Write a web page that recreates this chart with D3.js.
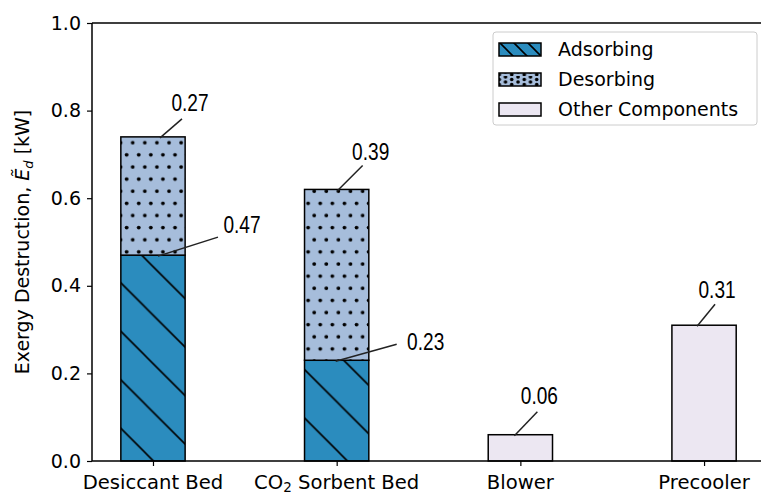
<!DOCTYPE html>
<html>
<head>
<meta charset="utf-8">
<script src="https://cdn.jsdelivr.net/npm/d3@7"></script>
<style>
  body { margin: 0; background: #fff; }
  svg text { font-family: "DejaVu Sans", sans-serif; }
  .val { font-family: "Liberation Sans", Arial, sans-serif; font-size: 23px; }
</style>
</head>
<body>
<div id="chart"></div>
<script>
// categories and values (kW)
var categories = ["Desiccant Bed", "CO2 Sorbent Bed", "Blower", "Precooler"];
var adsorbing = [0.47, 0.23, null, null];
var desorbing = [0.27, 0.39, null, null];
var other = [null, null, 0.06, 0.31];
var yTicks = [0.0, 0.2, 0.4, 0.6, 0.8, 1.0];
var legendLabels = ["Adsorbing", "Desorbing", "Other Components"];

var colAds = "#2b8cbe", colDes = "#a6bddb", colOther = "#ece7f2";

var W = 761, H = 493;
var margin = { top: 23, left: 92, bottom: 32 };

var svg = d3.select("#chart").append("svg")
    .attr("width", W)
    .attr("height", H);

var defs = svg.append("defs");

// hatch "\\" pattern
function makeHatch(id, s, ox, oy) {
    var p = defs.append("pattern")
        .attr("id", id)
        .attr("patternUnits", "userSpaceOnUse")
        .attr("x", ox).attr("y", oy)
        .attr("width", s).attr("height", s);
    p.append("rect").attr("width", s).attr("height", s).attr("fill", colAds);
    p.append("path")
        .attr("d", "M-2,-2L" + (s + 2) + "," + (s + 2) + "M" + (-s - 2) + ",-2L2," + (s + 2) + "M" + (s - 2) + ",-2L" + (2 * s + 2) + "," + (s + 2))
        .attr("stroke", "#000").attr("stroke-width", 1.6);
}
makeHatch("hatchAds", 48.5, 0, 16.5);
makeHatch("hatchLeg", 14, 0, 4);

// dotted pattern
var dw = 12.1, dh = 24.26;
var dots = defs.append("pattern")
    .attr("id", "dotsDes")
    .attr("patternUnits", "userSpaceOnUse")
    .attr("x", 129.7).attr("y", 139.7)
    .attr("width", dw).attr("height", dh);
dots.append("rect").attr("width", dw).attr("height", dh).attr("fill", colDes);
dots.append("circle").attr("cx", 3).attr("cy", 3).attr("r", 1.9).attr("fill", "#000");
dots.append("circle").attr("cx", 3 + dw / 2).attr("cy", 3 + dh / 2).attr("r", 1.9).attr("fill", "#000");

var dotsL = defs.append("pattern")
    .attr("id", "dotsLeg")
    .attr("patternUnits", "userSpaceOnUse")
    .attr("x", 497).attr("y", 74)
    .attr("width", 12.5).attr("height", 10);
dotsL.append("rect").attr("width", 12.5).attr("height", 10).attr("fill", colDes);
dotsL.append("circle").attr("cx", 3).attr("cy", 1).attr("r", 1.8).attr("fill", "#000");
dotsL.append("circle").attr("cx", 3).attr("cy", 6).attr("r", 1.8).attr("fill", "#000");
dotsL.append("circle").attr("cx", 9.25).attr("cy", 3.5).attr("r", 1.8).attr("fill", "#000");
dotsL.append("circle").attr("cx", 9.25).attr("cy", 8.5).attr("r", 1.8).attr("fill", "#000");

var x = d3.scaleLinear()
    .domain([-0.332, 3.31])
    .range([margin.left, W]);

var y = d3.scaleLinear()
    .domain([0, 1])
    .range([H - margin.bottom - 0, margin.top]);

var bw = x(0.35) - x(0);

var g = svg.append("g");

function drawBars(vals, base, fill) {
    g.selectAll(null)
        .data(vals.map(function(v, i) { return { v: v, i: i, b: base ? base[i] || 0 : 0 }; })
                  .filter(function(d) { return d.v != null; }))
        .enter()
        .append("rect")
        .attr("x", function(d) { return x(d.i) - bw / 2; })
        .attr("y", function(d) { return y(d.b + d.v); })
        .attr("width", bw)
        .attr("height", function(d) { return y(d.b) - y(d.b + d.v); })
        .attr("fill", fill)
        .attr("stroke", "#000")
        .attr("stroke-width", 1.5);
}

drawBars(adsorbing, null, "url(#hatchAds)");
drawBars(desorbing, adsorbing, "url(#dotsDes)");
drawBars(other, null, colOther);

// axes
var yAxis = d3.axisLeft(y)
    .tickValues(yTicks)
    .tickFormat(d3.format(".1f"))
    .tickSize(5)
    .tickPadding(6);

var ya = svg.append("g")
    .attr("transform", "translate(" + margin.left + ",0)")
    .call(yAxis);
ya.select(".domain").remove();
ya.selectAll("text").attr("font-size", 19).attr("font-family", "DejaVu Sans").attr("fill", "#000");
ya.selectAll("line").attr("stroke", "#000").attr("stroke-width", 1.2);

var xAxis = d3.axisBottom(x)
    .tickValues([0, 1, 2, 3])
    .tickFormat("")
    .tickSize(5);

var xa = svg.append("g")
    .attr("transform", "translate(0," + y(0) + ")")
    .call(xAxis);
xa.select(".domain").remove();
xa.selectAll("line").attr("stroke", "#000").attr("stroke-width", 1.2);

// x labels (CO2 subscript)
var xl = svg.append("g").selectAll("text")
    .data(categories)
    .enter()
    .append("text")
    .attr("x", function(d, i) { return x(i); })
    .attr("y", 489)
    .attr("text-anchor", "middle")
    .attr("font-size", 19.6);
xl.each(function(d) {
    var t = d3.select(this);
    if (d.indexOf("CO2") === 0) {
        t.append("tspan").text("CO");
        t.append("tspan").text("2").attr("font-size", 13.5).attr("dy", 2.5);
        t.append("tspan").text(d.slice(3)).attr("dy", -2.5);
    } else {
        t.text(d);
    }
});

// spines
svg.append("path")
    .attr("d", "M" + margin.left + "," + y(1) + "V" + y(0) + "H" + W + "M" + margin.left + "," + y(1) + "H" + W)
    .attr("fill", "none")
    .attr("stroke", "#000")
    .attr("stroke-width", 1.5);

// y label
var yl = svg.append("text")
    .attr("transform", "translate(29," + y(0.5) + ") rotate(-90)")
    .attr("text-anchor", "middle")
    .attr("font-size", 19);
yl.append("tspan").text("Exergy Destruction, ");
yl.append("tspan").text("\u1EBC").attr("font-style", "italic");
yl.append("tspan").text("d").attr("font-style", "italic").attr("font-size", 13).attr("dy", 4);
yl.append("tspan").text(" [kW]").attr("dy", -4);

// value annotations: leader from bar top to text
var annot = [
    { i: 0, v: adsorbing[0] + desorbing[0], text: desorbing[0], lx0: 7, lx1: 29, ly1: -18, tx: 37, ty: -26 },
    { i: 0, v: adsorbing[0], text: adsorbing[0], lx0: 5, lx1: 65, ly1: -18, tx: 89, ty: -22 },
    { i: 1, v: adsorbing[1] + desorbing[1], text: desorbing[1], lx0: 1, lx1: 26, ly1: -24, tx: 34, ty: -29 },
    { i: 1, v: adsorbing[1], text: adsorbing[1], lx0: -1, lx1: 60, ly1: -16, tx: 89, ty: -10 },
    { i: 2, v: other[2], text: other[2], lx0: -6, lx1: 17, ly1: -23, tx: 19, ty: -31 },
    { i: 3, v: other[3], text: other[3], lx0: -7, lx1: 11, ly1: -21, tx: 13, ty: -27 }
];

var ag = svg.append("g");
annot.forEach(function(a) {
    var px = x(a.i), py = y(a.v);
    ag.append("line")
        .attr("x1", px + a.lx0).attr("y1", py + 1)
        .attr("x2", px + a.lx1).attr("y2", py + a.ly1)
        .attr("stroke", "#222").attr("stroke-width", 1.5);
    ag.append("text")
        .attr("class", "val")
        .attr("transform", "translate(" + (px + a.tx) + "," + (py + a.ty) + ") scale(0.83,1)")
        .attr("text-anchor", "middle")
        .text(d3.format(".2f")(a.text));
});

// legend
var lg = svg.append("g").attr("transform", "translate(493,32)");
lg.append("rect")
    .attr("width", 264).attr("height", 93)
    .attr("rx", 3)
    .attr("fill", "#fff").attr("fill-opacity", 0.8)
    .attr("stroke", "#ccc").attr("stroke-width", 1);
var fills = ["url(#hatchLeg)", "url(#dotsLeg)", colOther];
legendLabels.forEach(function(l, k) {
    lg.append("rect")
        .attr("x", 6).attr("y", 11 + k * 30)
        .attr("width", 42).attr("height", 13)
        .attr("fill", fills[k])
        .attr("stroke", "#000").attr("stroke-width", 1.5);
    lg.append("text")
        .attr("x", 65).attr("y", 24 + k * 30)
        .attr("font-size", 19)
        .text(l);
});
</script>
</body>
</html>
